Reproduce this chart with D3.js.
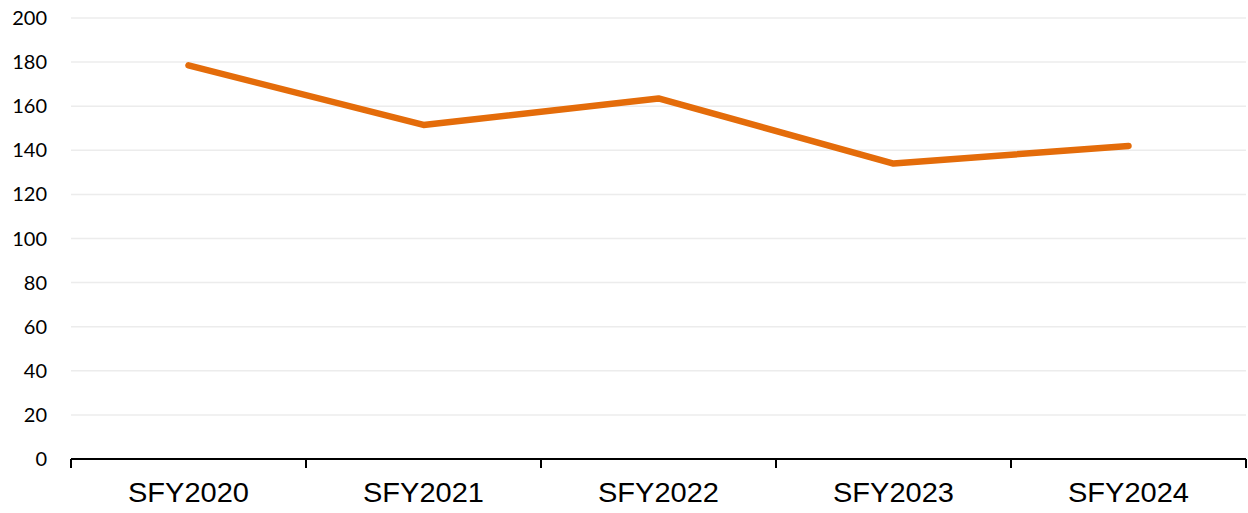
<!DOCTYPE html>
<html><head><meta charset="utf-8">
<script src="https://cdn.jsdelivr.net/npm/d3@7"></script>
<style>body{margin:0;background:#fff}svg{display:block}</style>
</head><body><svg id="c" width="1248" height="513"></svg>
<script>
const categories = ["SFY2020","SFY2021","SFY2022","SFY2023","SFY2024"];
const values = [178.5, 151.5, 163.5, 134, 142];
const yTicks = [0,20,40,60,80,100,120,140,160,180,200];

const svg = d3.select("#c");
const L = 71, R = 1246, T = 18, B = 459;
const x = d3.scaleBand().domain(categories).range([L, R]);
const y = d3.scaleLinear().domain([0, 200]).range([B, T]);

svg.append("g").selectAll("line").data(yTicks.filter(d => d > 0)).join("line")
  .attr("x1", L).attr("x2", R).attr("y1", d => y(d)).attr("y2", d => y(d))
  .attr("stroke", "#ececec").attr("stroke-width", 1.5);

svg.append("g").selectAll("text").data(yTicks).join("text")
  .attr("x", 47).attr("y", d => y(d)).attr("dy", "0.35em").attr("text-anchor", "end")
  .attr("font-family", "Lato, sans-serif").attr("font-size", 20).attr("fill", "#000")
  .text(d => d);

const xa = svg.append("g").attr("transform", `translate(0,${B})`)
  .call(d3.axisBottom(x).tickSize(0).tickFormat(""));
xa.select(".domain").remove();
svg.append("line").attr("x1", L).attr("x2", R).attr("y1", B).attr("y2", B)
  .attr("stroke", "#000").attr("stroke-width", 2);
const tickPos = categories.map(c => x(c)).concat([x(categories[categories.length-1]) + x.bandwidth()]);
svg.append("g").selectAll("line").data(tickPos).join("line")
  .attr("x1", d => d).attr("x2", d => d).attr("y1", B).attr("y2", B + 9)
  .attr("stroke", "#000").attr("stroke-width", 2);
svg.append("g").selectAll("text").data(categories).join("text")
  .attr("x", d => x(d) + x.bandwidth()/2).attr("y", 502).attr("text-anchor", "middle")
  .attr("font-family", "Liberation Sans, Arial, sans-serif").attr("font-size", 28).attr("fill", "#000")
  .attr("textLength", 121).attr("lengthAdjust", "spacingAndGlyphs")
  .text(d => d);

const line = d3.line().x((d, i) => x(categories[i]) + x.bandwidth()/2).y(d => y(d));
svg.append("path").datum(values).attr("d", line).attr("fill", "none")
  .attr("stroke", "#E46C0A").attr("stroke-width", 6.5)
  .attr("stroke-linecap", "round").attr("stroke-linejoin", "round");
</script></body></html>
